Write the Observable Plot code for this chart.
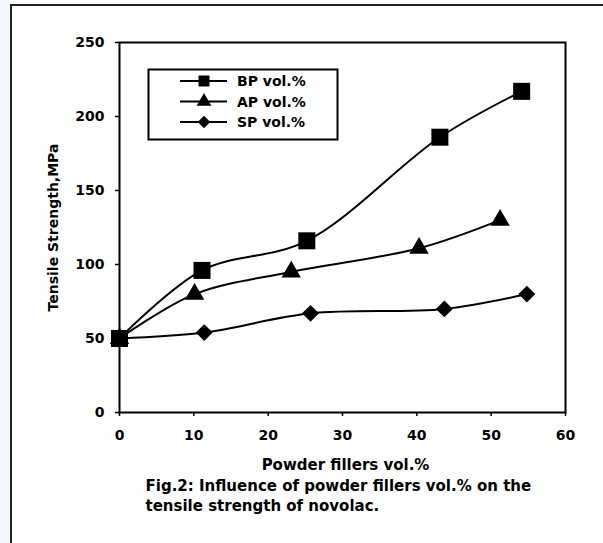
<!DOCTYPE html>
<html>
<head>
<meta charset="utf-8">
<script src="https://cdn.jsdelivr.net/npm/d3@7"></script>
<script src="https://cdn.jsdelivr.net/npm/@observablehq/plot@0.6"></script>
<style>
  html, body { margin: 0; padding: 0; background: #fff; }
  #wrap { position: relative; width: 603px; height: 543px; overflow: hidden; }
  #strip { position: absolute; left: 0; top: 0; width: 10px; height: 543px; background: #f3f6fb; }
  #border { position: absolute; left: 10px; top: 4px; width: 700px; height: 700px;
            border-top: 2px solid #222; border-left: 2px solid #222; }
  #chart { position: absolute; left: 0; top: 0; }
</style>
</head>
<body>
<div id="wrap">
  <div id="strip"></div>
  <div id="border"></div>
  <div id="chart"></div>
</div>
<script>
// ---- data ----
const seriesNames = ["BP vol.%", "AP vol.%", "SP vol.%"];
const seriesSymbols = ["square", "triangle", "diamond2"];
const bpX = [0, 11.1, 25.2, 43.1, 54.1];
const bpY = [50, 96, 116, 186, 217];
const apX = [0, 10.1, 23.1, 40.3, 51.2];
const apY = [50, 80, 95, 111, 130];
const spX = [0, 11.4, 25.7, 43.7, 54.8];
const spY = [50, 54, 67, 70, 80];
const xTicks = [0, 10, 20, 30, 40, 50, 60];
const yTicks = [0, 50, 100, 150, 200, 250];
const xLabel = "Powder fillers vol.%";
const yLabel = "Tensile Strength,MPa";
const caption = "Fig.2: Influence of powder fillers vol.% on the\ntensile strength of novolac.";

const toRows = (name, xs, ys) => xs.map((x, i) => ({series: name, x, y: ys[i]}));
const bp = toRows(seriesNames[0], bpX, bpY);
const ap = toRows(seriesNames[1], apX, apY);
const sp = toRows(seriesNames[2], spX, spY);

const font = "DejaVu Sans, Verdana, sans-serif";

const chart = Plot.plot({
  width: 603,
  height: 543,
  marginLeft: 119,
  marginRight: 38,
  marginTop: 42,
  marginBottom: 131,
  style: {fontFamily: font, fontWeight: "bold", fontSize: "14px", color: "#000", background: "transparent"},
  x: {domain: [0, 60], label: null},
  y: {domain: [0, 250], label: null},
  marks: [
    Plot.frame({stroke: "#000", strokeWidth: 2}),
    Plot.axisX({ticks: xTicks, tickSize: 4, tickPadding: 14, strokeWidth: 1.5, fontSize: 14, fontWeight: "bold"}),
    Plot.axisY({ticks: yTicks, tickSize: 4, tickPadding: 11, strokeWidth: 1.5, fontSize: 14, fontWeight: "bold"}),
    Plot.line(bp, {x: "x", y: "y", curve: "catmull-rom", stroke: "#000", strokeWidth: 2}),
    Plot.line(ap, {x: "x", y: "y", curve: "catmull-rom", stroke: "#000", strokeWidth: 2}),
    Plot.line(sp, {x: "x", y: "y", curve: "catmull-rom", stroke: "#000", strokeWidth: 2}),
    Plot.dot(sp, {x: "x", y: "y", symbol: seriesSymbols[2], r: 7.6, fill: "#000", stroke: "none"}),
    Plot.dot(ap, {x: "x", y: "y", symbol: seriesSymbols[1], r: 7.2, fill: "#000", stroke: "none"}),
    Plot.dot(bp, {x: "x", y: "y", symbol: seriesSymbols[0], r: 9.6, fill: "#000", stroke: "none"}),
    Plot.text([yLabel], {frameAnchor: "left", dx: -66, rotate: -90, textAnchor: "middle", lineAnchor: "middle", fontSize: 14, fontWeight: "bold", fill: "#000"}),
    Plot.text([xLabel], {frameAnchor: "bottom", dx: 3, dy: 53, textAnchor: "middle", lineAnchor: "middle", fontSize: 15, fontWeight: "bold", fill: "#000"}),
    Plot.text([caption], {frameAnchor: "bottom-left", dx: 26, dy: 82, textAnchor: "start", lineAnchor: "middle", lineHeight: 1.33, fontSize: 15, fontWeight: "bold", fill: "#000"})
  ]
});
document.getElementById("chart").appendChild(chart);

// ---- legend ----
const svg = d3.select(chart);
const lg = svg.append("g").attr("font-family", font).attr("font-weight", "bold").attr("font-size", 14)
  .attr("text-anchor", "start");
lg.append("rect").attr("x", 148.5).attr("y", 69.5).attr("width", 189).attr("height", 70)
  .attr("fill", "#fff").attr("stroke", "#000").attr("stroke-width", 2);
const symMap = {square: d3.symbolSquare, triangle: d3.symbolTriangle, diamond2: d3.symbolDiamond2};
const legendR = [6.2, 5.4, 5.6];
seriesNames.forEach((name, i) => {
  const cy = 81 + i * 20.5;
  lg.append("line").attr("x1", 180).attr("x2", 227).attr("y1", cy).attr("y2", cy)
    .attr("stroke", "#000").attr("stroke-width", 2);
  lg.append("path").attr("transform", `translate(204,${cy})`)
    .attr("d", d3.symbol(symMap[seriesSymbols[i]], Math.PI * legendR[i] ** 2)())
    .attr("fill", "#000");
  lg.append("text").attr("x", 237).attr("y", cy).attr("dy", "0.36em").attr("fill", "#000")
    .attr("text-anchor", "start").text(name);
});
</script>
</body>
</html>
